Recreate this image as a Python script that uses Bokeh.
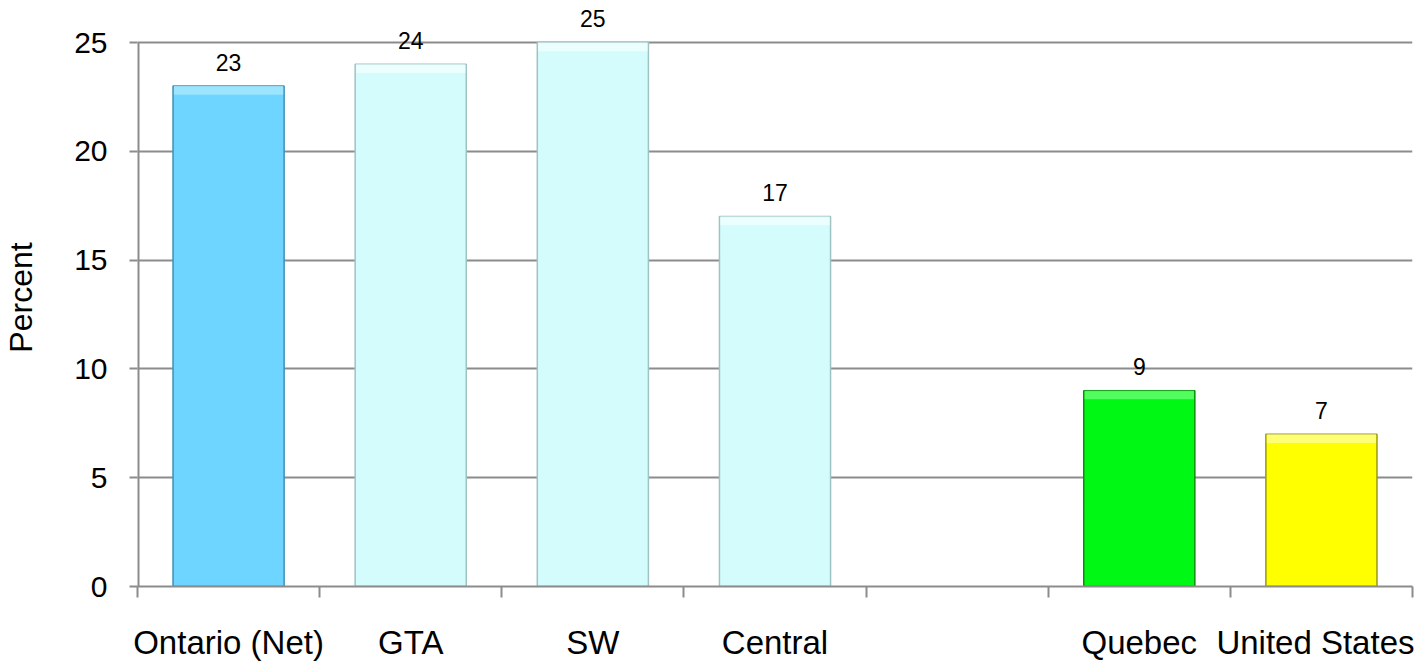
from bokeh.plotting import figure
from bokeh.models import ColumnDataSource, FixedTicker, LabelSet, Range1d
from bokeh.core.properties import value
from bokeh.embed import file_html
from bokeh.resources import INLINE

categories = ["Ontario (Net)", "GTA", "SW", "Central", "", "Quebec", "United States"]
values = [23, 24, 25, 17, None, 9, 7]
fill_colors = ["#6dd5ff", "#d4fcfc", "#d4fcfc", "#d4fcfc", "#ffffff", "#00f914", "#ffff00"]
line_colors = ["#3f8fb8", "#9fc2c2", "#9fc2c2", "#9fc2c2", "#ffffff", "#0a8f0a", "#9a9a10"]
top_colors = ["#a8e8ff", "#f0ffff", "#f0ffff", "#f0ffff", "#ffffff", "#66ff70", "#ffff90"]
y_ticks = [0, 5, 10, 15, 20, 25]

GRID = "#8c8c8c"

idx = [i for i, v in enumerate(values) if v is not None]
src = ColumnDataSource(dict(
    x=[i + 0.5 for i in idx],
    top=[values[i] for i in idx],
    hl_bottom=[values[i] - 0.4 for i in idx],
    fill=[fill_colors[i] for i in idx],
    line=[line_colors[i] for i in idx],
    topc=[top_colors[i] for i in idx],
    label=[str(values[i]) for i in idx],
))

y_top = max(y_ticks) * 578 / 544  # headroom above the top gridline for value labels

p = figure(width=1414, height=663, output_backend="svg", toolbar_location=None,
           x_range=Range1d(0, len(categories)), y_range=Range1d(0, y_top),
           min_border_left=135, min_border_right=2, min_border_top=8, min_border_bottom=77)
p.outline_line_color = None
p.background_fill_color = "white"
p.border_fill_color = "white"

p.vbar(x="x", top="top", bottom=0, width=0.61, source=src, fill_color="fill",
       line_color="line", line_width=1.5)
p.vbar(x="x", top="top", bottom="hl_bottom", width=0.60, source=src, fill_color="topc",
       line_color=None, fill_alpha=0.8)

labels = LabelSet(x="x", y="top", text="label", source=src, text_align="center",
                  text_baseline="middle", y_offset=24, text_font_size="23px",
                  text_font=value("Liberation Sans"), text_color="black")
p.add_layout(labels)

# y axis line only up to the top tick
p.segment(x0=[0], y0=[0], x1=[0], y1=[max(y_ticks)], line_color=GRID, line_width=4)

# y axis
p.yaxis.ticker = FixedTicker(ticks=y_ticks)
p.yaxis.axis_label = "Percent"
p.yaxis.axis_label_text_font = "Liberation Sans"
p.yaxis.axis_label_text_font_size = "32px"
p.yaxis.axis_label_text_font_style = "normal"
p.yaxis.axis_label_text_color = "black"
p.yaxis.axis_label_standoff = 32
p.yaxis.major_label_text_font = "Liberation Sans"
p.yaxis.major_label_text_font_size = "30px"
p.yaxis.major_label_text_color = "black"
p.yaxis.major_label_standoff = 22
p.yaxis.major_tick_out = 8
p.yaxis.major_tick_in = 0
p.yaxis.minor_tick_line_color = None
p.yaxis.axis_line_color = None
p.yaxis.major_tick_line_color = GRID
p.yaxis.major_tick_line_width = 2

# x axis
centers = [i + 0.5 for i in range(len(categories))]
bounds = list(range(len(categories) + 1))
p.xaxis.ticker = FixedTicker(ticks=centers, minor_ticks=bounds)
p.xaxis.major_label_overrides = {c: lab for c, lab in zip(centers, categories)}
p.xaxis.major_label_text_font = "Liberation Sans"
p.xaxis.major_label_text_font_size = "33px"
p.xaxis.major_label_text_color = "black"
p.xaxis.major_label_standoff = 26
p.xaxis.major_tick_out = 0
p.xaxis.major_tick_in = 0
p.xaxis.major_tick_line_color = None
p.xaxis.minor_tick_out = 11
p.xaxis.minor_tick_in = 0
p.xaxis.minor_tick_line_color = GRID
p.xaxis.minor_tick_line_width = 2
p.xaxis.axis_line_color = GRID
p.xaxis.axis_line_width = 2

p.xgrid.grid_line_color = None
p.ygrid.grid_line_color = GRID
p.ygrid.grid_line_width = 2

open("out.html", "w").write(file_html(p, INLINE))
